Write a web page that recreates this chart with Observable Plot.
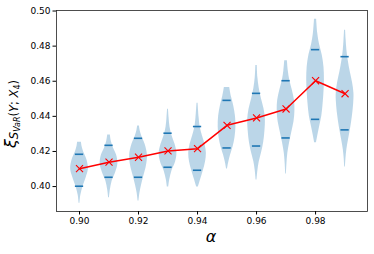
<!DOCTYPE html>
<html><head><meta charset="utf-8">
<script src="https://cdn.jsdelivr.net/npm/d3@7"></script>
<script src="https://cdn.jsdelivr.net/npm/@observablehq/plot@0.6"></script>
<style>body{margin:0;background:#fff}</style>
</head><body><div id="chart"></div>
<script>
const alphas = [0.90, 0.91, 0.92, 0.93, 0.94, 0.95, 0.96, 0.97, 0.98, 0.99];
const means  = [0.4102, 0.4139, 0.4167, 0.4203, 0.4216, 0.4349, 0.4391, 0.4442, 0.4603, 0.4529];
const upperQ = [0.4184, 0.4235, 0.4275, 0.4304, 0.4342, 0.4491, 0.4531, 0.4603, 0.4780, 0.4740];
const lowerQ = [0.4002, 0.4053, 0.4053, 0.4110, 0.4093, 0.4220, 0.4231, 0.4277, 0.4383, 0.4323];
// violin outlines: [value, relative half-width]
const violin090 = [[0.3905,0.05],[0.395,0.15],[0.400,0.4],[0.405,0.75],[0.410,1],[0.415,0.85],[0.420,0.45],[0.423,0.28],[0.4252,0.22]];
const violin091 = [[0.3937,0.05],[0.398,0.15],[0.403,0.35],[0.408,0.75],[0.413,1],[0.418,0.85],[0.422,0.5],[0.426,0.25],[0.4294,0.15]];
const violin092 = [[0.3918,0.05],[0.396,0.15],[0.401,0.35],[0.406,0.6],[0.412,0.9],[0.418,1],[0.424,0.75],[0.429,0.35],[0.432,0.18],[0.4345,0.1]];
const violin093 = [[0.3998,0.08],[0.404,0.2],[0.409,0.45],[0.414,0.85],[0.419,1],[0.424,0.8],[0.429,0.45],[0.434,0.22],[0.439,0.12],[0.444,0.05]];
const violin094 = [[0.3998,0.1],[0.404,0.35],[0.409,0.65],[0.414,0.9],[0.419,1],[0.424,0.85],[0.429,0.55],[0.434,0.3],[0.439,0.18],[0.4475,0.06]];
const violin095 = [[0.410,0.05],[0.414,0.2],[0.418,0.4],[0.423,0.7],[0.428,0.9],[0.434,1],[0.440,0.95],[0.446,0.75],[0.451,0.5],[0.4565,0.3]];
const violin096 = [[0.4038,0.05],[0.409,0.15],[0.414,0.3],[0.419,0.55],[0.425,0.8],[0.432,0.95],[0.438,1],[0.444,0.85],[0.450,0.55],[0.456,0.3],[0.462,0.15],[0.469,0.08]];
const violin097 = [[0.4072,0.04],[0.413,0.1],[0.419,0.2],[0.425,0.4],[0.431,0.65],[0.437,0.9],[0.443,1],[0.449,0.95],[0.455,0.7],[0.461,0.4],[0.466,0.25],[0.4717,0.15]];
const violin098 = [[0.4249,0.1],[0.429,0.25],[0.434,0.45],[0.440,0.7],[0.447,0.85],[0.454,0.95],[0.461,1],[0.468,0.95],[0.475,0.75],[0.481,0.45],[0.487,0.25],[0.4953,0.12]];
const violin099 = [[0.4112,0.04],[0.416,0.1],[0.421,0.2],[0.427,0.4],[0.434,0.65],[0.441,0.85],[0.448,0.98],[0.453,1],[0.459,0.85],[0.465,0.6],[0.472,0.35],[0.478,0.2],[0.4835,0.12],[0.489,0.06]];
const violins = [violin090, violin091, violin092, violin093, violin094, violin095, violin096, violin097, violin098, violin099];
const xTicks = [0.90, 0.92, 0.94, 0.96, 0.98];
const yTicks = [0.40, 0.42, 0.44, 0.46, 0.48, 0.50];

const HW = 0.003;     // max half width of a violin (alpha units)
const QW = 0.0014;    // half width of quantile bars

const violinRows = [];
violins.forEach((prof, i) => prof.forEach(([v, f]) =>
  violinRows.push({alpha: alphas[i], v, x1: alphas[i] - f * HW, x2: alphas[i] + f * HW})));
const qRows = [];
alphas.forEach((a, i) => { qRows.push({alpha: a, q: upperQ[i]}); qRows.push({alpha: a, q: lowerQ[i]}); });
const meanRows = alphas.map((a, i) => ({alpha: a, mean: means[i]}));

const chart = Plot.plot({
  width: 374, height: 254,
  marginLeft: 56, marginRight: 7, marginTop: 10, marginBottom: 43,
  style: {fontFamily: "DejaVu Sans", fontSize: "9px", color: "#000", background: "#fff"},
  x: {domain: [0.8922, 0.9976]},
  y: {domain: [0.3858, 0.5003]},
  marks: [
    Plot.areaX(violinRows, {y: "v", x1: "x1", x2: "x2", z: "alpha", fill: "#1f77b4", fillOpacity: 0.3, curve: "catmull-rom"}),
    Plot.ruleY(qRows, {y: "q", x1: d => d.alpha - QW, x2: d => d.alpha + QW, stroke: "#1f77b4", strokeWidth: 1.6}),
    Plot.line(meanRows, {x: "alpha", y: "mean", stroke: "red", strokeWidth: 1.5}),
    Plot.dot(meanRows, {x: "alpha", y: "mean", symbol: "times", r: 3.3, stroke: "red", strokeWidth: 1.1}),
    Plot.frame({stroke: "#222", strokeWidth: 0.8}),
    Plot.axisX({ticks: xTicks, tickFormat: d3.format(".2f"), tickSize: 3.5, tickPadding: 2.5, label: null, fontSize: 9}),
    Plot.axisY({ticks: yTicks, tickFormat: d3.format(".2f"), tickSize: 3.5, tickPadding: 2.5, label: null, fontSize: 9})
  ]
});
document.getElementById("chart").appendChild(chart);

const svg = d3.select(chart);
svg.append("text")
  .attr("x", 211).attr("y", 242)
  .attr("text-anchor", "middle")
  .attr("font-family", "DejaVu Sans").attr("font-style", "italic").attr("font-size", 16)
  .attr("fill", "#000")
  .text("α");

const yl = svg.append("text")
  .attr("transform", "translate(15.5,114) rotate(-90)")
  .attr("text-anchor", "middle")
  .attr("font-family", "DejaVu Sans").attr("fill", "#000");
yl.append("tspan").attr("font-size", 16).attr("font-style", "italic").text("ξ");
yl.append("tspan").attr("font-size", 11.5).attr("font-style", "italic").attr("dy", 2.5).text("S");
yl.append("tspan").attr("font-size", 8).attr("font-style", "italic").attr("dy", 2).text("VaR");
yl.append("tspan").attr("font-size", 11.5).attr("dy", -2).text("(");
yl.append("tspan").attr("font-size", 11.5).attr("font-style", "italic").text("Y");
yl.append("tspan").attr("font-size", 11.5).text("; ");
yl.append("tspan").attr("font-size", 11.5).attr("font-style", "italic").text("X");
yl.append("tspan").attr("font-size", 8).attr("dy", 2).text("4");
yl.append("tspan").attr("font-size", 11.5).attr("dy", -2).text(")");
</script>
</body></html>
